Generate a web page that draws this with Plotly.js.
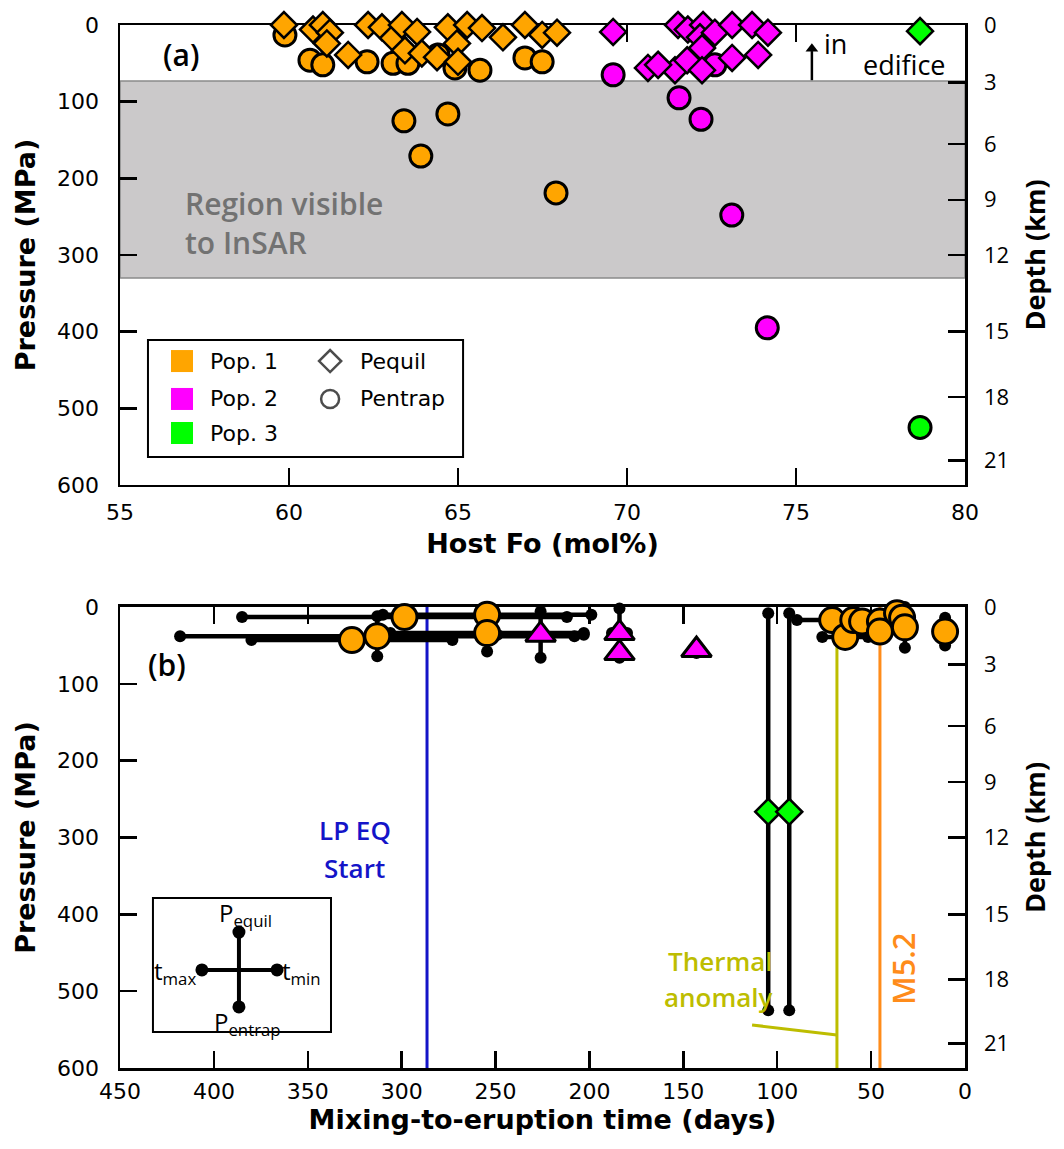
<!DOCTYPE html>
<html><head><meta charset="utf-8">
<script src="https://cdn.plot.ly/plotly-3.0.1.min.js"></script>
<style>html,body{margin:0;padding:0;background:#fff}#chart{width:1064px;height:1149px}</style>
</head><body><div id="chart"></div>
<script>
// ---------- Panel (a): Host Fo vs Pressure ----------
const pop1EquilFo = [59.85, 60.71, 61.0, 61.21, 61.12, 61.75, 62.34, 62.75, 63.08, 63.34, 63.43, 63.79, 63.93, 64.38, 64.70, 64.97, 65.0, 65.27, 65.71, 66.33, 66.98, 67.49, 67.93];
const pop1EquilP  = [0, 6, 0, 10, 24, 39, 0, 3, 17, 0, 33, 9, 37, 42, 3, 24, 48, 0, 4, 16, 0, 13, 10];
const pop1EntrapFo = [59.88, 60.62, 61.0, 62.31, 63.08, 63.52, 64.41, 64.91, 65.65, 66.98, 67.49, 63.4, 64.7, 63.9, 67.9];
const pop1EntrapP  = [13, 46, 52, 48, 50, 50, 39, 56, 59, 43, 48, 125, 116, 171, 219];
const pop2EquilFo = [69.59, 71.51, 71.80, 72.25, 72.16, 72.60, 73.11, 73.70, 74.17, 73.11, 73.88, 72.22, 71.42, 70.62, 70.92, 71.78, 72.22];
const pop2EquilP  = [9, 0, 6, 0, 16, 10, 0, 0, 10, 43, 39, 30, 59, 56, 52, 46, 59];
const pop2EntrapFo = [69.59, 72.6, 71.54, 72.19, 73.1, 74.15];
const pop2EntrapP  = [65, 52, 95, 123, 248, 395];
const pop3EquilFo = [78.67];
const pop3EquilP  = [8];
const pop3EntrapFo = [78.67];
const pop3EntrapP  = [525];

const insarTopP = 73;
const insarBottomP = 330;

// depth axis (km) labels and the pressure (MPa) at which each sits
const depthKm  = [0, 3, 6, 9, 12, 15, 18, 21];
const depthAtP = [0, 75, 155, 228, 300, 400, 485, 568];

const foTicks = [55, 60, 65, 70, 75, 80];
const pTicks = [0, 100, 200, 300, 400, 500, 600];
const tTicks = [0, 50, 100, 150, 200, 250, 300, 350, 400, 450];

// ---------- Panel (b): mixing-to-eruption time ----------
const pop1TMax = [385, 310, 380, 418, 306, 89.5, 76, 66, 60, 50, 50, 40, 37, 34, 12];
const pop1TMin = [212, 199, 273, 208, 203, 52, 51.6, 53, 49.6, 40.6, 40.6, 32.4, 30, 30, 9.2];
const pop1PEq  = [10, 7, 40, 12, 10, 12, 34, 13, 15, 15, 26, 4, 10, 0, 14];
const pop1PEn  = [16, 13, 46, 64, 58, 22, 44, 21, 23, 23, 38, 12, 18, 53, 50];
const pop2TMax = [249, 188, 186, 145];
const pop2TMin = [203, 180, 182, 141];
const pop2PEq  = [6, 2, 55, 52];
const pop2PEn  = [66, 66, 65, 60];
const pop3TMax = [107, 96];
const pop3TMin = [102.6, 91.2];
const pop3PEq  = [8, 8];
const pop3PEn  = [525, 525];

const lpEqStartT = 286.5;
const thermalT = 68.2;
const m52T = 45.3;

const ORANGE = '#FFA500', MAGENTA = '#FF00FF', GREEN = '#00FF00';
const BLUE = '#1414C8', OLIVE = '#BDBD00', ORANGE2 = '#FF8C1A';

function mids(tMin, tMax, pEq, pEn) {
  return {
    t: tMin.map((v, i) => (v + tMax[i]) / 2),
    p: pEq.map((v, i) => (v + pEn[i]) / 2)
  };
}
function barLines(tMin, tMax, pEq, pEn) {
  const xs = [], ys = [];
  tMin.forEach((v, i) => {
    const tm = (v + tMax[i]) / 2, pm = (pEq[i] + pEn[i]) / 2;
    xs.push(tMax[i], v, null, tm, tm, null);
    ys.push(pm, pm, null, pEq[i], pEn[i], null);
  });
  return {x: xs, y: ys};
}
function barDots(tMin, tMax, pEq, pEn) {
  const xs = [], ys = [];
  tMin.forEach((v, i) => {
    const tm = (v + tMax[i]) / 2, pm = (pEq[i] + pEn[i]) / 2;
    xs.push(tMax[i], v, tm, tm);
    ys.push(pm, pm, pEq[i], pEn[i]);
  });
  return {x: xs, y: ys};
}

const traces = [];
const mk = (x, y, sym, size, color, xa, ya, lw) => ({
  type: 'scatter', mode: 'markers', x, y, xaxis: xa, yaxis: ya, cliponaxis: false,
  hoverinfo: 'skip', showlegend: false,
  marker: {symbol: sym, size, color, line: {color: 'black', width: lw || 2.5}}
});

// panel a markers
traces.push(mk(pop1EntrapFo, pop1EntrapP, 'circle', 22, ORANGE, 'x', 'y', 3));
traces.push(mk(pop1EquilFo, pop1EquilP, 'diamond', 20, ORANGE, 'x', 'y'));
traces.push(mk(pop2EntrapFo, pop2EntrapP, 'circle', 22, MAGENTA, 'x', 'y', 3));
traces.push(mk(pop2EquilFo, pop2EquilP, 'diamond', 20, MAGENTA, 'x', 'y'));
traces.push(mk(pop3EntrapFo, pop3EntrapP, 'circle', 22, GREEN, 'x', 'y', 3));
traces.push(mk(pop3EquilFo, pop3EquilP, 'diamond', 20, GREEN, 'x', 'y'));
// "in edifice" arrow (line + head), drawn in Fo/pressure units
traces.push({type: 'scatter', mode: 'lines', x: [75.47, 75.47], y: [72, 34], xaxis: 'x', yaxis: 'y',
  line: {color: 'black', width: 2.5}, showlegend: false, hoverinfo: 'skip'});
traces.push({type: 'scatter', mode: 'markers', x: [75.47], y: [31], xaxis: 'x', yaxis: 'y',
  marker: {symbol: 'triangle-up', size: 11, color: 'black'}, showlegend: false, hoverinfo: 'skip'});
// depth axis attachment
traces.push({type: 'scatter', mode: 'markers', x: [55], y: [0], xaxis: 'x', yaxis: 'y2', showlegend: false,
  hoverinfo: 'skip', marker: {size: 1, opacity: 0}});

// panel b event lines
[[lpEqStartT, BLUE], [thermalT, OLIVE], [m52T, ORANGE2]].forEach(([t, c]) => {
  traces.push({type: 'scatter', mode: 'lines', x: [t, t], y: [0, 600], xaxis: 'x2', yaxis: 'y3',
    line: {color: c, width: 3}, showlegend: false, hoverinfo: 'skip'});
});
// panel b error bars
const groups = [
  [pop1TMin, pop1TMax, pop1PEq, pop1PEn],
  [pop2TMin, pop2TMax, pop2PEq, pop2PEn],
  [pop3TMin, pop3TMax, pop3PEq, pop3PEn]
];
groups.forEach(g => {
  const l = barLines(...g);
  traces.push({type: 'scatter', mode: 'lines', x: l.x, y: l.y, xaxis: 'x2', yaxis: 'y3', cliponaxis: false,
    line: {color: 'black', width: 4.5}, connectgaps: false, showlegend: false, hoverinfo: 'skip'});
});
groups.forEach(g => {
  const d = barDots(...g);
  traces.push({type: 'scatter', mode: 'markers', x: d.x, y: d.y, xaxis: 'x2', yaxis: 'y3', cliponaxis: false,
    marker: {color: 'black', size: 12}, showlegend: false, hoverinfo: 'skip'});
});
const m1 = mids(pop1TMin, pop1TMax, pop1PEq, pop1PEn);
const m2 = mids(pop2TMin, pop2TMax, pop2PEq, pop2PEn);
const m3 = mids(pop3TMin, pop3TMax, pop3PEq, pop3PEn);
traces.push(mk(m1.t, m1.p, 'circle', 25, ORANGE, 'x2', 'y3', 3));
traces.push(mk(m2.t, m2.p, 'triangle-up', 26, MAGENTA, 'x2', 'y3', 3));
traces.push(mk(m3.t, m3.p, 'diamond', 20, GREEN, 'x2', 'y3', 2.5));
traces.push({type: 'scatter', mode: 'markers', x: [450], y: [0], xaxis: 'x2', yaxis: 'y4', showlegend: false,
  hoverinfo: 'skip', marker: {size: 1, opacity: 0}});

// legend box symbols (panel a)
const legendLabels = ['Pop. 1', 'Pop. 2', 'Pop. 3', 'Pequil', 'Pentrap'];
traces.push({type: 'scatter', mode: 'markers', x: [0.108, 0.108, 0.108], y: [0.82, 0.496, 0.205],
  xaxis: 'x3', yaxis: 'y5', showlegend: false, hoverinfo: 'skip',
  marker: {symbol: 'square', size: 22, color: [ORANGE, MAGENTA, GREEN], line: {width: 0}}});
traces.push({type: 'scatter', mode: 'markers', x: [0.578, 0.578], y: [0.82, 0.496],
  xaxis: 'x3', yaxis: 'y5', showlegend: false, hoverinfo: 'skip',
  marker: {symbol: ['diamond-open', 'circle-open'], size: [17, 18], color: 'black', line: {width: 2.5, color: 'black'}}});

// inset key (panel b)
traces.push({type: 'scatter', mode: 'lines+markers', x: [0.275, 0.697, null, 0.483, 0.483],
  y: [0.463, 0.463, null, 0.746, 0.187], xaxis: 'x4', yaxis: 'y6', showlegend: false, hoverinfo: 'skip',
  line: {color: 'black', width: 4}, marker: {color: 'black', size: 13}});

const axBase = {
  showline: true, linecolor: 'black', linewidth: 2.5, ticks: 'inside', ticklen: 17, tickwidth: 2.5,
  tickcolor: 'black', showgrid: false, zeroline: false, autorange: false, layer: 'below traces',
  tickfont: {family: 'DejaVu Sans', size: 22, color: 'black'}
};
const titleFont = {family: 'DejaVu Sans', size: 27, color: 'black', weight: 'bold'};
const depthTitleFont = {family: 'Open Sans', size: 27, color: 'black', weight: 'bold'};

const annFont = (size, color, weight) => ({family: 'Open Sans', size, color, weight: weight || 'normal'});

const layout = {
  width: 1064, height: 1149,
  margin: {l: 120, r: 99, t: 25, b: 81},
  paper_bgcolor: 'white', plot_bgcolor: 'rgba(0,0,0,0)',
  showlegend: false,
  xaxis: Object.assign({}, axBase, {domain: [0, 1], anchor: 'y', range: [55, 80], tickvals: foTicks,
    mirror: 'ticks', ticklabelstandoff: 6,
    title: {text: 'Host Fo (mol%)', font: titleFont, standoff: 10}}),
  yaxis: Object.assign({}, axBase, {domain: [0.559, 1], anchor: 'x', range: [600, 0], tickvals: pTicks,
    ticklabelstandoff: 14,
    title: {text: 'Pressure (MPa)', font: titleFont, standoff: 14}}),
  yaxis2: Object.assign({}, axBase, {overlaying: 'y', side: 'right', anchor: 'x', range: [600, 0],
    tickvals: depthAtP, ticktext: depthKm.map(String), ticklabelstandoff: 12,
    tickfont: {family: 'Open Sans', size: 22, color: 'black'},
    title: {text: 'Depth (km)', font: depthTitleFont, standoff: 18}}),
  xaxis2: Object.assign({}, axBase, {domain: [0, 1], anchor: 'y3', range: [450, 0], tickvals: tTicks,
    mirror: 'ticks', ticklabelstandoff: 2,
    title: {text: 'Mixing-to-eruption time (days)', font: titleFont, standoff: 0}}),
  yaxis3: Object.assign({}, axBase, {domain: [0, 0.442], anchor: 'x2', range: [600, 0], tickvals: pTicks,
    ticklabelstandoff: 14,
    title: {text: 'Pressure (MPa)', font: titleFont, standoff: 14}}),
  yaxis4: Object.assign({}, axBase, {overlaying: 'y3', side: 'right', anchor: 'x2', range: [600, 0],
    tickvals: depthAtP, ticktext: depthKm.map(String), ticklabelstandoff: 12,
    tickfont: {family: 'Open Sans', size: 22, color: 'black'},
    title: {text: 'Depth (km)', font: depthTitleFont, standoff: 18}}),
  xaxis3: {domain: [0.0331, 0.406], anchor: 'y5', range: [0, 1], visible: false, fixedrange: true},
  yaxis5: {domain: [0.5858, 0.698], anchor: 'x3', range: [0, 1], visible: false, fixedrange: true},
  xaxis4: {domain: [0.039, 0.2497], anchor: 'y6', range: [0, 1], visible: false, fixedrange: true},
  yaxis6: {domain: [0.0345, 0.163], anchor: 'x4', range: [0, 1], visible: false, fixedrange: true},
  shapes: [
    {type: 'rect', xref: 'x domain', yref: 'y', x0: 0, x1: 1, y0: insarTopP, y1: insarBottomP,
      fillcolor: '#CBC9CA', line: {color: '#8a8a8a', width: 1.5}, layer: 'below'},
    {type: 'rect', xref: 'x3 domain', yref: 'y5 domain', x0: 0, x1: 1, y0: 0, y1: 1,
      line: {color: 'black', width: 2}, fillcolor: 'rgba(0,0,0,0)'},
    {type: 'rect', xref: 'x4 domain', yref: 'y6 domain', x0: 0, x1: 1, y0: 0, y1: 1,
      line: {color: 'black', width: 2}, fillcolor: 'rgba(0,0,0,0)'},
    {type: 'line', xref: 'x2', yref: 'y3', x0: 113.4, y0: 544, x1: thermalT, y1: 557,
      line: {color: OLIVE, width: 3}}
  ],
  annotations: [
    {text: '(a)', xref: 'paper', yref: 'paper', x: 0.0722, y: 0.972, xanchor: 'center', yanchor: 'middle', showarrow: false, font: annFont(30, 'black', 600)},
    {text: '(b)', xref: 'paper', yref: 'paper', x: 0.0556, y: 0.3864, xanchor: 'center', yanchor: 'middle', showarrow: false, font: annFont(30, 'black', 600)},
    {text: 'Region visible', xref: 'paper', yref: 'paper', x: 0.0746, y: 0.8293, xanchor: 'left', yanchor: 'middle', showarrow: false, font: annFont(30, '#727272', 600)},
    {text: 'to InSAR', xref: 'paper', yref: 'paper', x: 0.0746, y: 0.791, xanchor: 'left', yanchor: 'middle', showarrow: false, font: annFont(30, '#727272', 600)},
    {text: 'in', xref: 'x', yref: 'y', x: 75.77, y: 23.5, xanchor: 'left', yanchor: 'middle', showarrow: false, font: annFont(27, 'black')},
    {text: 'edifice', xref: 'x', yref: 'y', x: 78.2, y: 52, xanchor: 'center', yanchor: 'middle', showarrow: false, font: annFont(27, 'black')},
    // legend texts
    {text: legendLabels[0], xref: 'x3', yref: 'y5', x: 0.19, y: 0.82, xanchor: 'left', yanchor: 'middle', showarrow: false, font: {family: 'DejaVu Sans', size: 22, color: 'black'}},
    {text: legendLabels[1], xref: 'x3', yref: 'y5', x: 0.19, y: 0.496, xanchor: 'left', yanchor: 'middle', showarrow: false, font: {family: 'DejaVu Sans', size: 22, color: 'black'}},
    {text: legendLabels[2], xref: 'x3', yref: 'y5', x: 0.19, y: 0.205, xanchor: 'left', yanchor: 'middle', showarrow: false, font: {family: 'DejaVu Sans', size: 22, color: 'black'}},
    {text: legendLabels[3], xref: 'x3', yref: 'y5', x: 0.667, y: 0.82, xanchor: 'left', yanchor: 'middle', showarrow: false, font: {family: 'DejaVu Sans', size: 22, color: 'black'}},
    {text: legendLabels[4], xref: 'x3', yref: 'y5', x: 0.667, y: 0.496, xanchor: 'left', yanchor: 'middle', showarrow: false, font: {family: 'DejaVu Sans', size: 22, color: 'black'}},
    // panel b texts
    {text: 'LP EQ', xref: 'x2', yref: 'y3', x: 325, y: 290, xanchor: 'center', yanchor: 'middle', showarrow: false, font: annFont(26, BLUE, 600)},
    {text: 'Start', xref: 'x2', yref: 'y3', x: 325, y: 340, xanchor: 'center', yanchor: 'middle', showarrow: false, font: annFont(26, BLUE, 600)},
    {text: 'Thermal', xref: 'x2', yref: 'y3', x: 101, y: 461, xanchor: 'right', yanchor: 'middle', showarrow: false, font: annFont(26, OLIVE, 600)},
    {text: 'anomaly', xref: 'x2', yref: 'y3', x: 101, y: 508, xanchor: 'right', yanchor: 'middle', showarrow: false, font: annFont(26, OLIVE, 600)},
    {text: 'M5.2', xref: 'x2', yref: 'y3', x: 33, y: 471, textangle: -90, xanchor: 'center', yanchor: 'middle', showarrow: false, font: annFont(31, ORANGE2, 600)},
    // inset key labels
    {text: 'P<sub>equil</sub>', xref: 'x4', yref: 'y6', x: 0.52, y: 0.88, xanchor: 'center', yanchor: 'middle', showarrow: false, font: annFont(24, 'black')},
    {text: 'P<sub>entrap</sub>', xref: 'x4', yref: 'y6', x: 0.53, y: 0.07, xanchor: 'center', yanchor: 'middle', showarrow: false, font: annFont(24, 'black')},
    {text: 't<sub>max</sub>', xref: 'x4', yref: 'y6', x: 0.255, y: 0.45, xanchor: 'right', yanchor: 'middle', showarrow: false, font: annFont(24, 'black')},
    {text: 't<sub>min</sub>', xref: 'x4', yref: 'y6', x: 0.715, y: 0.45, xanchor: 'left', yanchor: 'middle', showarrow: false, font: annFont(24, 'black')}
  ]
};

Plotly.newPlot('chart', traces, layout, {staticPlot: true, displayModeBar: false});
</script></body></html>
